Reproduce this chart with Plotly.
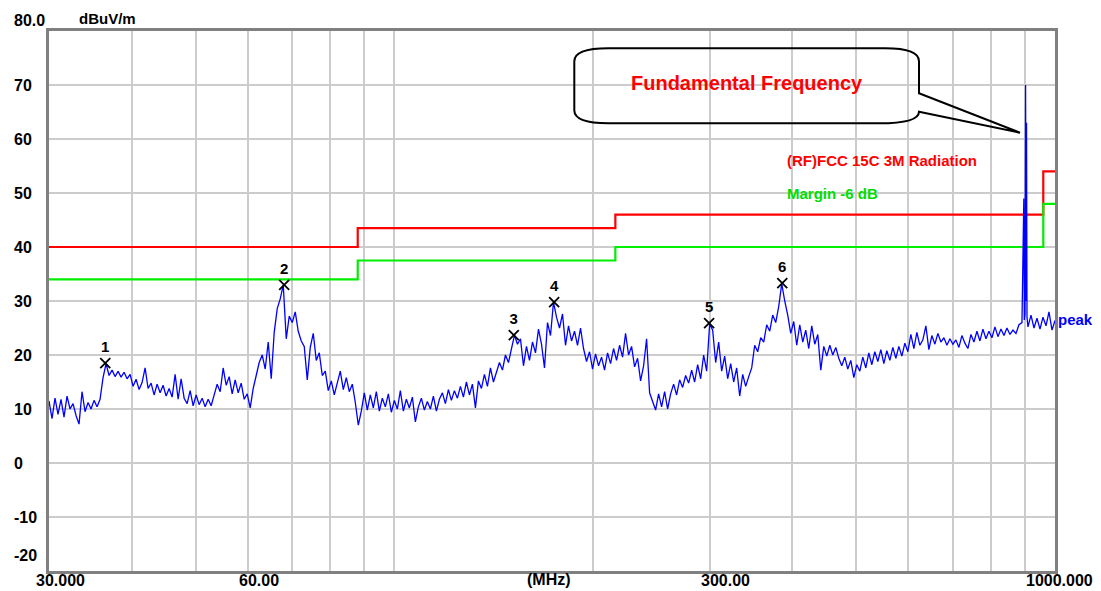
import numpy as np
import plotly.graph_objects as go

# ---------------- data ----------------
# measured peak trace (dBuV/m), sweep points equally spaced on log frequency 30..1000 MHz
trace_level = [
    11.5, 8.2, 12.0, 9.0, 11.8, 8.5, 12.4, 10.0, 11.0, 8.8,
    7.2, 13.2, 9.5, 11.2, 10.0, 11.6, 10.4, 11.8, 15.8, 18.4,
    16.2, 17.2, 16.0, 17.0, 15.9, 16.8, 15.6, 16.4, 14.2, 15.5,
    13.6, 14.9, 17.6, 13.8, 14.8, 12.6, 14.6, 13.0, 14.4, 12.4,
    13.8, 12.2, 16.4, 11.8, 15.6, 12.0, 11.0, 13.4, 10.6, 12.6,
    10.8, 12.0, 10.4, 11.8, 10.6, 12.6, 14.6, 13.2, 17.6, 14.4,
    16.0, 12.8, 15.4, 13.0, 14.8, 11.8, 12.8, 10.2, 13.8, 16.2,
    18.6, 20.0, 17.4, 22.4, 15.6, 24.2, 28.6, 30.4, 33.0, 23.0,
    27.2, 26.0, 28.0, 24.4, 22.6, 21.6, 15.4, 21.4, 24.0, 19.0,
    20.4, 16.2, 17.0, 13.4, 15.2, 12.6, 14.8, 17.0, 13.6, 15.8,
    13.2, 14.6, 11.2, 7.0, 9.6, 13.0, 9.8, 12.6, 10.2, 13.2,
    9.6, 12.0, 10.4, 12.8, 9.4, 11.6, 10.0, 13.4, 9.6, 11.8,
    10.2, 12.2, 7.6, 10.4, 12.0, 9.8, 11.4, 10.0, 12.4, 9.6,
    11.8, 13.0, 11.0, 13.6, 11.6, 13.4, 12.0, 14.2, 12.2, 15.0,
    12.6, 14.6, 10.2, 15.2, 13.8, 16.4, 14.2, 17.6, 15.0, 17.0,
    18.6, 17.2, 20.0, 18.6, 21.4, 23.7, 22.0, 23.0, 18.0, 21.6,
    19.0, 22.4, 20.4, 24.8, 22.0, 17.6, 26.0, 23.6, 29.8, 27.0,
    25.0, 27.6, 21.8, 25.4, 22.6, 24.4, 21.8, 25.0, 21.2, 18.8,
    20.6, 17.4, 20.2, 18.0, 19.6, 17.2, 20.4, 18.4, 21.2, 19.0,
    21.8, 19.6, 24.0, 20.0, 21.6, 17.8, 19.4, 15.2, 18.0, 23.0,
    13.0, 11.4, 9.8, 12.8, 10.4, 13.2, 10.0, 12.8, 14.6, 12.6,
    15.4, 14.0, 16.2, 14.8, 17.2, 15.0, 18.2, 15.6, 20.0, 17.0,
    25.8, 24.6, 18.6, 22.4, 17.0, 19.8, 15.6, 18.4, 15.0, 17.6,
    12.4, 16.4, 14.2, 16.0, 17.6, 21.8, 20.6, 23.2, 22.4, 25.6,
    24.4, 27.4, 26.0, 29.0, 33.2, 30.0, 27.4, 24.0, 26.2, 21.8,
    25.6, 22.4, 24.6, 21.2, 25.4, 22.0, 23.8, 17.2, 21.6, 19.8,
    21.8, 20.0, 21.4, 19.4, 18.0, 19.6, 17.4, 19.0, 15.8, 18.2,
    17.0, 19.6, 17.6, 20.4, 18.2, 20.6, 18.8, 21.0, 18.4, 20.8,
    19.0, 21.4, 19.4, 21.6, 19.8, 22.2, 20.6, 23.8, 21.2, 24.2,
    21.8, 22.8, 25.4, 21.0, 23.6, 22.0, 24.0, 22.4, 23.2, 21.8,
    23.0, 22.0, 22.8, 21.4, 23.6, 22.2, 21.2, 23.8, 22.4, 24.4,
    22.6, 24.8, 23.0, 24.4, 23.2, 25.2, 23.4, 24.8, 23.6, 25.0,
    23.8, 24.6, 24.0, 25.6, 26.0, 27.6, 25.2, 27.4, 25.0, 26.8,
    24.8, 27.0, 25.4, 28.0, 24.6, 26.4,
]
sweep_start_mhz = 30
sweep_stop_mhz = 1000

# extra sweep points around the fundamental carrier
fund_freq = [897.0, 898.5, 902.5, 904.5, 905.5, 907.0]
fund_level = [49.0, 26.5, 70.0, 30.0, 63.0, 27.0]

# limit line (FCC 15C 3M radiation) and -6 dB margin line
limit_freq = [30, 88, 216, 960, 1000]
limit_level = [40.0, 43.5, 46.0, 54.0, 54.0]
margin_level = [34.0, 37.5, 40.0, 48.0, 48.0]

# marked peaks
marker_freq = [36.5, 68.1, 151.6, 174.5, 299.5, 386.5]
marker_level = [18.5, 33.0, 23.7, 29.8, 25.9, 33.3]
marker_label = ["1", "2", "3", "4", "5", "6"]

# axes
y_tick_vals = [80, 70, 60, 50, 40, 30, 20, 10, 0, -10, -20]
y_tick_text = ["80.0", "70", "60", "50", "40", "30", "20", "10", "0", "-10", "-20"]
x_grid_vals = [40, 50, 60, 70, 80, 90, 100, 200, 300, 400, 500, 600, 700, 800, 900]
x_label_vals = [30, 60, 300, 1000]
x_label_text = ["30.000", "60.00", "300.00", "1000.000"]

# ---------------- build ----------------
sweep_freq = np.geomspace(sweep_start_mhz, sweep_stop_mhz, len(trace_level))
all_f = np.concatenate([sweep_freq, np.array(fund_freq)])
all_l = np.concatenate([np.array(trace_level), np.array(fund_level)])
order = np.argsort(all_f)
all_f = all_f[order]
all_l = all_l[order]

FONT = "Liberation Sans, Arial, sans-serif"
W, H = 1101, 591
ML, MR, MT, MB = 49, 46, 31, 20
PW = W - ML - MR
PH = H - MT - MB

fig = go.Figure()

fig.add_trace(go.Scatter(x=limit_freq, y=limit_level, mode="lines",
                         line=dict(color="#ff0000", width=2.2, shape="hv"),
                         hoverinfo="skip"))
fig.add_trace(go.Scatter(x=limit_freq, y=margin_level, mode="lines",
                         line=dict(color="#00ee00", width=2.2, shape="hv"),
                         hoverinfo="skip"))
fig.add_trace(go.Scatter(x=all_f, y=all_l, mode="lines",
                         line=dict(color="#0000ff", width=1.3)))
fig.add_trace(go.Scatter(x=marker_freq, y=marker_level, mode="markers+text",
                         marker=dict(symbol="x-thin", size=10,
                                     line=dict(color="black", width=1.8)),
                         text=["<b>%s</b>" % t for t in marker_label],
                         textposition="top center",
                         textfont=dict(family=FONT, size=15, color="black")))

ann = []
# y tick labels (left aligned at the figure edge)
for v, t in zip(y_tick_vals, y_tick_text):
    ys = 0
    if v == y_tick_vals[0]:
        ys = 11
    elif v == y_tick_vals[-1]:
        ys = 16
    ann.append(dict(x=0, xref="paper", y=v, yref="y", xanchor="left", yanchor="middle",
                    xshift=-37, yshift=ys, showarrow=False, text="<b>%s</b>" % t,
                    font=dict(family=FONT, size=16, color="black")))
ann.append(dict(x=0, xref="paper", y=1, yref="paper", xanchor="left", yanchor="middle",
                xshift=28, yshift=13, showarrow=False, text="<b>dBuV/m</b>",
                font=dict(family=FONT, size=15, color="black")))
# x labels
x_shift = {30: -15, 60: -11, 300: -11, 1000: -31}
for v, t in zip(x_label_vals, x_label_text):
    ann.append(dict(x=np.log10(v), xref="x", y=0, yref="paper", xanchor="left",
                    yanchor="middle", xshift=x_shift[v], yshift=-9, showarrow=False,
                    text="<b>%s</b>" % t, font=dict(family=FONT, size=16, color="black")))
ann.append(dict(x=0.4969, xref="paper", y=0, yref="paper", xanchor="center", yanchor="middle",
                yshift=-8, showarrow=False, text="<b>(MHz)</b>",
                font=dict(family=FONT, size=16, color="black")))
# legend-like texts
ann.append(dict(x=(785 - ML) / PW, xref="paper", y=56.0, yref="y", xanchor="left",
                yanchor="middle", showarrow=False, text="<b>(RF)FCC 15C 3M Radiation</b>",
                font=dict(family=FONT, size=15, color="#ff0000")))
ann.append(dict(x=(785 - ML) / PW, xref="paper", y=50.0, yref="y", xanchor="left",
                yanchor="middle", showarrow=False, text="<b>Margin -6 dB</b>",
                font=dict(family=FONT, size=15, color="#00dd00")))
ann.append(dict(x=1, xref="paper", y=26.5, yref="y", xanchor="left", yanchor="middle",
                xshift=1, showarrow=False, text="<b>peak</b>",
                font=dict(family=FONT, size=15, color="#0000ff")))
ann.append(dict(x=(746.7 - ML) / PW, xref="paper", y=70.3, yref="y", xanchor="center",
                yanchor="middle", showarrow=False, text="<b>Fundamental Frequency</b>",
                font=dict(family=FONT, size=20, color="#ff0000")))

# callout bubble (paper coordinates derived from pixel layout)
def P(px, py):
    return "%.5f,%.5f" % ((px - ML) / PW, (MT + PH - py) / PH)

L, R, T, B = 574.3, 919.0, 48.3, 123.3
rx, ry = 34, 13
path = ("M " + P(L + rx, T) + " L " + P(R - rx, T) +
        " Q " + P(R, T) + " " + P(R, T + ry) +
        " L " + P(R, 93.3) + " L " + P(1020, 132.7) + " L " + P(R, 111.7) +
        " Q " + P(R, B) + " " + P(R - 40, B) +
        " L " + P(L + rx, B) +
        " Q " + P(L, B) + " " + P(L, B - ry) +
        " L " + P(L, T + ry) +
        " Q " + P(L, T) + " " + P(L + rx, T) + " Z")
shapes = [dict(type="path", xref="paper", yref="paper", path=path,
               line=dict(color="black", width=2), fillcolor="rgba(0,0,0,0)")]

fig.update_layout(
    width=W, height=H,
    margin=dict(l=ML, r=MR, t=MT, b=MB),
    paper_bgcolor="white", plot_bgcolor="white",
    showlegend=False,
    annotations=ann,
    shapes=shapes,
    xaxis=dict(type="log", range=[np.log10(sweep_start_mhz), np.log10(sweep_stop_mhz)],
               tickvals=x_grid_vals, showticklabels=False, ticks="",
               showgrid=True, gridcolor="#cccccc", gridwidth=1.5,
               showline=True, linecolor="#808080", linewidth=2.5, mirror=True,
               zeroline=False, fixedrange=True),
    yaxis=dict(range=[-20, 80], tickvals=[v for v in y_tick_vals[1:-1]],
               showticklabels=False, ticks="",
               showgrid=True, gridcolor="#cccccc", gridwidth=1.5,
               showline=True, linecolor="#808080", linewidth=2.5, mirror=True,
               zeroline=False, fixedrange=True),
)

fig.write_html("out.html", config={"displayModeBar": False},
               post_script="document.body.style.margin='0';document.body.style.padding='0';"
                           "document.documentElement.style.overflow='hidden';")
